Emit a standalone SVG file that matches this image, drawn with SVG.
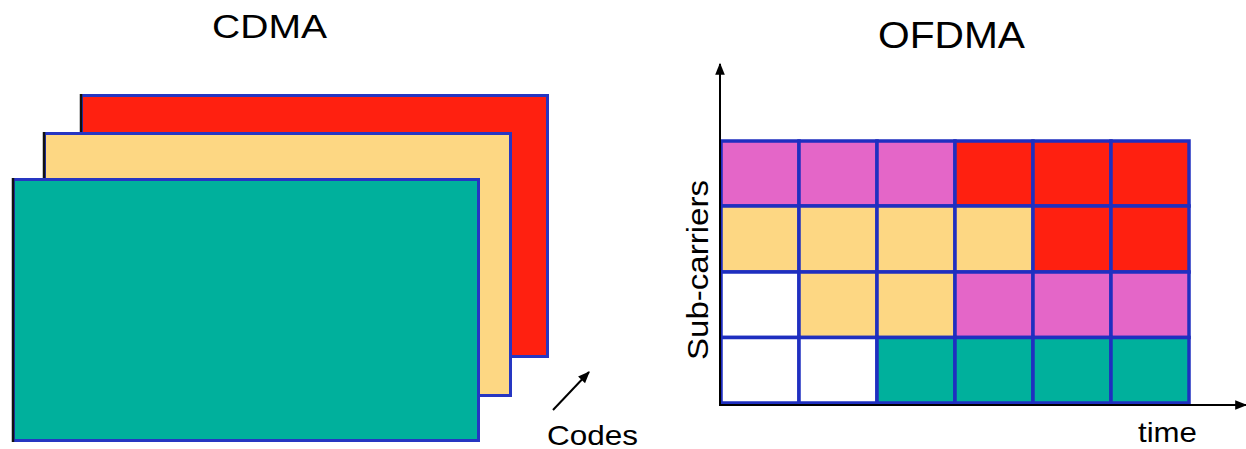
<svg xmlns="http://www.w3.org/2000/svg" width="1246" height="449" viewBox="0 0 1246 449">
<style>
.lbl{font-family:"Liberation Sans",Arial,sans-serif;fill:#000}
.layer{stroke:#2636c2;stroke-width:3}
.edge{stroke:#111;stroke-width:2.5}
.cell{stroke:#1f2fc0;stroke-width:3.5}
.m{fill:#e466c8}.r{fill:#ff2010}.y{fill:#fdd783}.t{fill:#00b09c}.w{fill:#fff}
.axis{stroke:#000;stroke-width:2;fill:none}
</style>
<defs>
<marker id="ah" viewBox="0 0 10 10" refX="9" refY="5" markerWidth="15" markerHeight="12" markerUnits="userSpaceOnUse" orient="auto">
<path d="M0,1 L10,5 L0,9 Z" fill="#000"/>
</marker>
<marker id="ah2" viewBox="0 0 10 10" refX="9" refY="5" markerWidth="15" markerHeight="12" markerUnits="userSpaceOnUse" orient="auto">
<path d="M0,1 L10,5 L0,9 Z" fill="#000"/>
</marker>
</defs>
<text class="lbl" x="212" y="38" font-size="34" textLength="115" lengthAdjust="spacingAndGlyphs">CDMA</text>
<text class="lbl" x="878" y="48" font-size="36" textLength="147" lengthAdjust="spacingAndGlyphs">OFDMA</text>
<g id="layer-red">
<rect class="layer r" x="81.5" y="95.5" width="466" height="261"/>
<line class="edge" x1="81" y1="94" x2="81" y2="358"/>
</g>
<g id="layer-yellow">
<rect class="layer y" x="44.5" y="133.5" width="466" height="262"/>
<line class="edge" x1="44" y1="132" x2="44" y2="397"/>
</g>
<g id="layer-teal">
<rect class="layer t" x="13.5" y="179.5" width="465" height="261"/>
<line class="edge" x1="13" y1="178" x2="13" y2="442"/>
</g>
<g id="codes">
<text class="lbl" x="547" y="445" font-size="28" textLength="91" lengthAdjust="spacingAndGlyphs">Codes</text>
</g>
<g id="grid">
<rect class="cell m" x="721" y="141" width="78" height="65"/>
<rect class="cell m" x="799" y="141" width="78" height="65"/>
<rect class="cell m" x="877" y="141" width="78" height="65"/>
<rect class="cell r" x="955" y="141" width="78" height="65"/>
<rect class="cell r" x="1033" y="141" width="78" height="65"/>
<rect class="cell r" x="1111" y="141" width="78" height="65"/>
<rect class="cell y" x="721" y="206" width="78" height="66"/>
<rect class="cell y" x="799" y="206" width="78" height="66"/>
<rect class="cell y" x="877" y="206" width="78" height="66"/>
<rect class="cell y" x="955" y="206" width="78" height="66"/>
<rect class="cell r" x="1033" y="206" width="78" height="66"/>
<rect class="cell r" x="1111" y="206" width="78" height="66"/>
<rect class="cell w" x="721" y="272" width="78" height="65.5"/>
<rect class="cell y" x="799" y="272" width="78" height="65.5"/>
<rect class="cell y" x="877" y="272" width="78" height="65.5"/>
<rect class="cell m" x="955" y="272" width="78" height="65.5"/>
<rect class="cell m" x="1033" y="272" width="78" height="65.5"/>
<rect class="cell m" x="1111" y="272" width="78" height="65.5"/>
<rect class="cell w" x="721" y="337.5" width="78" height="65.5"/>
<rect class="cell w" x="799" y="337.5" width="78" height="65.5"/>
<rect class="cell t" x="877" y="337.5" width="78" height="65.5"/>
<rect class="cell t" x="955" y="337.5" width="78" height="65.5"/>
<rect class="cell t" x="1033" y="337.5" width="78" height="65.5"/>
<rect class="cell t" x="1111" y="337.5" width="78" height="65.5"/>
</g>
<g id="connectors">
<line class="axis" x1="553" y1="410" x2="589" y2="372" marker-end="url(#ah2)" stroke-width="2.5"/>
<line class="axis" x1="720" y1="405" x2="720" y2="64" marker-end="url(#ah)"/>
<line class="axis" x1="719" y1="405" x2="1246" y2="405" marker-end="url(#ah)"/>
</g>
<g id="axis-labels">
<text class="lbl" transform="translate(708,360) rotate(-90)" font-size="29" textLength="180" lengthAdjust="spacingAndGlyphs">Sub-carriers</text>
<text class="lbl" x="1138" y="442" font-size="28" textLength="59" lengthAdjust="spacingAndGlyphs">time</text>
</g>
</svg>
